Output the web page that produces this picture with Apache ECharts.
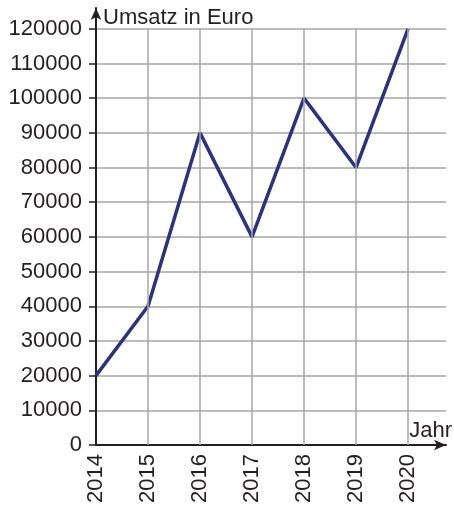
<!DOCTYPE html>
<html>
<head>
<meta charset="utf-8">
<script src="https://cdn.jsdelivr.net/npm/echarts@6/dist/echarts.min.js"></script>
<style>
  html, body { margin: 0; padding: 0; background: #fff; }
  #chart { width: 454px; height: 512px; }
</style>
</head>
<body>
<div id="chart"></div>
<script>
  // Umsatz pro Jahr
  const years = [2014, 2015, 2016, 2017, 2018, 2019, 2020];
  const umsatz = [20000, 40000, 90000, 60000, 100000, 80000, 120000];
  const yTopValue = 120000;

  const font = '"Liberation Sans", Arial, sans-serif';
  const axisColor = '#231f20';
  const gridColor = '#a6a6a6';

  let myChart = echarts.init(document.getElementById('chart'));
  const option = {
    animation: false,
    title: [{
      text: 'Umsatz in Euro',
      left: 103,
      top: 7,
      padding: 0,
      textStyle: { fontFamily: font, fontSize: 22, fontWeight: 'normal', color: axisColor }
    }, {
      text: 'Jahr',
      right: 2,
      top: 420,
      padding: 0,
      textStyle: { fontFamily: font, fontSize: 22, fontWeight: 'normal', color: axisColor }
    }],
    grid: {
      left: 96,
      right: 8,
      top: 8,
      bottom: 67
    },
    xAxis: {
      type: 'value',
      min: 2014,
      max: 2020.73,
      interval: 1,
      axisLine: {
        show: true,
        symbol: ['none', 'arrow'],
        symbolSize: [8, 12],
        lineStyle: { color: axisColor, width: 2 }
      },
      axisTick: { show: false },
      splitLine: { show: false },
      axisLabel: {
        rotate: 90,
        margin: 9,
        showMaxLabel: false,
        fontFamily: font,
        fontSize: 22,
        color: axisColor,
        formatter: v => String(Math.round(v))
      }
    },
    yAxis: {
      type: 'value',
      min: 0,
      max: 126000,
      interval: 10000,
      axisLine: {
        show: true,
        symbol: ['none', 'arrow'],
        symbolSize: [8, 12],
        lineStyle: { color: axisColor, width: 2 }
      },
      axisTick: { show: true, inside: false, length: 7, lineStyle: { color: axisColor, width: 1.5 } },
      splitLine: {
        show: true,
        showMaxLine: false,
        lineStyle: { color: gridColor, width: 1.5 }
      },
      axisLabel: {
        margin: 14,
        showMaxLabel: false,
        fontFamily: font,
        fontSize: 22,
        color: axisColor,
        formatter: v => String(v)
      }
    },
    series: [{
      name: 'raster',
      type: 'line',
      data: [],
      z: 1,
      silent: true,
      markLine: {
        silent: true,
        symbol: 'none',
        label: { show: false },
        lineStyle: { color: gridColor, width: 1.5, type: 'solid' },
        data: years.slice(1).map(y => [{ coord: [y, 0] }, { coord: [y, yTopValue] }])
      }
    }, {
      name: 'Umsatz',
      type: 'line',
      z: 3,
      data: years.map((y, i) => [y, umsatz[i]]),
      symbol: 'none',
      lineStyle: { color: '#2b3282', width: 3.5 }
    }]
  };
  myChart.setOption(option);
</script>
</body>
</html>
